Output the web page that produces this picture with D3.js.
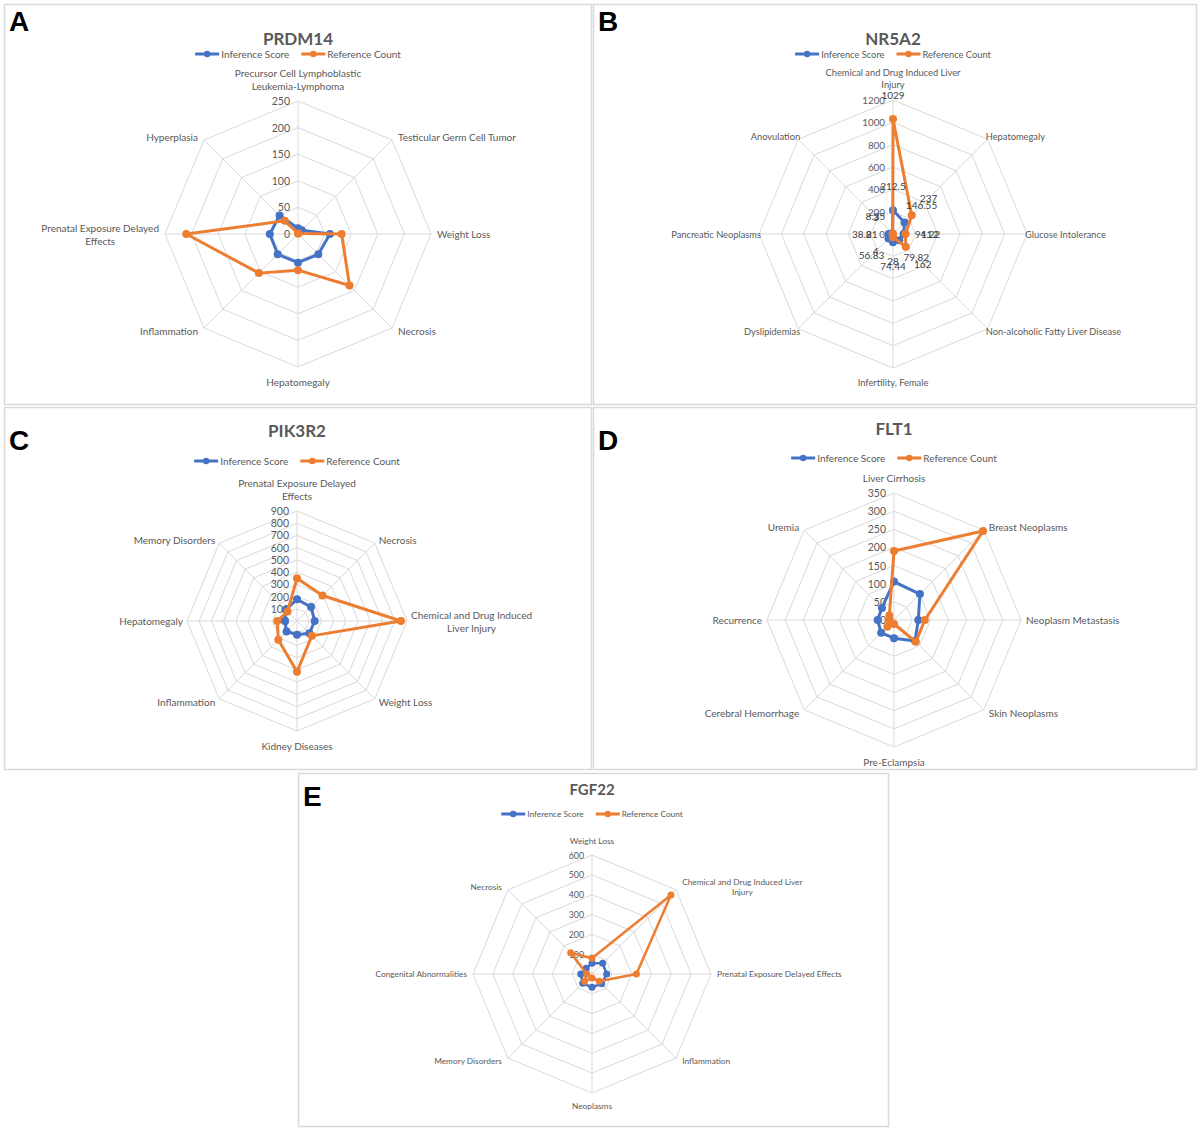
<!DOCTYPE html>
<html>
<head>
<meta charset="utf-8">
<script src="https://cdn.jsdelivr.net/npm/d3@7/dist/d3.min.js"></script>
<style>
  body { margin: 0; background: #fff; }
  text { font-family: Lato, "Open Sans", sans-serif; fill: #595959; }
</style>
</head>
<body>
<svg id="fig" width="1200" height="1130"></svg>
<script>
// series shared by every panel
var seriesNames = ["Inference Score", "Reference Count"];
var seriesColors = ["#4472C4", "#ED7D31"];

// A - PRDM14
var prdm14Diseases = ["Precursor Cell Lymphoblastic Leukemia-Lymphoma", "Testicular Germ Cell Tumor", "Weight Loss", "Necrosis", "Hepatomegaly", "Inflammation", "Prenatal Exposure Delayed Effects", "Hyperplasia"];
var prdm14Inference = [11, 10, 60, 54, 54, 54, 53, 49];
var prdm14Reference = [1, 1, 82, 137, 68, 104, 210, 35];
var prdm14Ticks = [0, 50, 100, 150, 200, 250];

// B - NR5A2
var nr5a2Diseases = ["Chemical and Drug Induced Liver Injury", "Hepatomegaly", "Glucose Intolerance", "Non-alcoholic Fatty Liver Disease", "Infertility, Female", "Dyslipidemias", "Pancreatic Neoplasms", "Anovulation"];
var nr5a2Inference = [212.5, 146.55, 94.22, 79.82, 74.44, 56.83, 38.81, 8.35];
var nr5a2Reference = [1029, 237, 112, 162, 28, 4, 2, 3];
var nr5a2Ticks = [0, 200, 400, 600, 800, 1000, 1200];

// C - PIK3R2
var pik3r2Diseases = ["Prenatal Exposure Delayed Effects", "Necrosis", "Chemical and Drug Induced Liver Injury", "Weight Loss", "Kidney Diseases", "Inflammation", "Hepatomegaly", "Memory Disorders"];
var pik3r2Inference = [177, 162, 145, 143, 112, 121, 100, 130];
var pik3r2Reference = [349, 295, 851, 172, 415, 216, 161, 110];
var pik3r2Ticks = [0, 100, 200, 300, 400, 500, 600, 700, 800, 900];

// D - FLT1
var flt1Diseases = ["Liver Cirrhosis", "Breast Neoplasms", "Neoplasm Metastasis", "Skin Neoplasms", "Pre-Eclampsia", "Cerebral Hemorrhage", "Recurrence", "Uremia"];
var flt1Inference = [106, 101, 67, 82, 50, 50, 45, 47];
var flt1Reference = [190, 347, 85, 85, 11, 26, 12, 18];
var flt1Ticks = [0, 50, 100, 150, 200, 250, 300, 350];

// E - FGF22
var fgf22Diseases = ["Weight Loss", "Chemical and Drug Induced Liver Injury", "Prenatal Exposure Delayed Effects", "Inflammation", "Neoplasms", "Memory Disorders", "Congenital Abnormalities", "Necrosis"];
var fgf22Inference = [54, 76, 74, 69, 67, 66, 57, 41];
var fgf22Reference = [79, 563, 224, 52, 20, 53, 27, 152];
var fgf22Ticks = [0, 100, 200, 300, 400, 500, 600];

var panels = [
  {letter: "A", gene: "PRDM14", diseases: prdm14Diseases, values: [prdm14Inference, prdm14Reference], ticks: prdm14Ticks,
   box: [4, 4, 587, 400], cx: 298, cy: 234, r: 133, titleY: 38, legendY: 54, fs: 10, titleFs: 17, wrap: 128, letterY: 31, gap: 6},
  {letter: "B", gene: "NR5A2", diseases: nr5a2Diseases, values: [nr5a2Inference, nr5a2Reference], ticks: nr5a2Ticks,
   box: [593, 4, 603, 400], cx: 893, cy: 234, r: 134, titleY: 38, legendY: 54, fs: 9.3, titleFs: 17, wrap: 140, letterY: 31, gap: -2, dataLabels: true},
  {letter: "C", gene: "PIK3R2", diseases: pik3r2Diseases, values: [pik3r2Inference, pik3r2Reference], ticks: pik3r2Ticks,
   box: [4, 407, 587, 362], cx: 297, cy: 621, r: 110, titleY: 430, legendY: 461, fs: 10, titleFs: 17, wrap: 128, letterY: 450, gap: 4},
  {letter: "D", gene: "FLT1", diseases: flt1Diseases, values: [flt1Inference, flt1Reference], ticks: flt1Ticks,
   box: [593, 407, 603, 362], cx: 894, cy: 620, r: 127, titleY: 428, legendY: 458, fs: 10, titleFs: 17, wrap: 140, letterY: 450, gap: 5},
  {letter: "E", gene: "FGF22", diseases: fgf22Diseases, values: [fgf22Inference, fgf22Reference], ticks: fgf22Ticks,
   box: [298, 773, 590, 353], cx: 592, cy: 974, r: 119, titleY: 789, legendY: 814, fs: 8.3, titleFs: 15, wrap: 136, letterY: 806, gap: 6}
];

var svg = d3.select("#fig");

// split a label into lines no wider than maxW
function wrapLines(label, fs, maxW) {
  var probe = svg.append("text").style("font-size", fs + "px");
  var words = label.split(" ");
  var lines = [];
  var line = words[0];
  for (var i = 1; i < words.length; i++) {
    probe.text(line + " " + words[i]);
    if (probe.node().getComputedTextLength() > maxW) {
      lines.push(line);
      line = words[i];
    } else {
      line = line + " " + words[i];
    }
  }
  lines.push(line);
  var widths = lines.map(function(l) { probe.text(l); return probe.node().getComputedTextLength(); });
  probe.remove();
  return {lines: lines, width: d3.max(widths)};
}

function drawPanel(p) {
  var g = svg.append("g");
  var n = p.diseases.length;
  var maxV = d3.max(p.ticks);
  var rScale = d3.scaleLinear().domain([0, maxV]).range([0, p.r]);
  var angle = d3.scaleLinear().domain([0, n]).range([0, 2 * Math.PI]);

  // panel frame
  g.append("rect")
    .attr("x", p.box[0] + 0.5).attr("y", p.box[1] + 0.5)
    .attr("width", p.box[2]).attr("height", p.box[3])
    .attr("fill", "none").attr("stroke", "#d9d9d9").attr("stroke-width", 1.5);

  g.append("text")
    .attr("x", p.box[0] + 5).attr("y", p.letterY)
    .style("font-family", "'Liberation Sans', Arial, sans-serif")
    .style("font-weight", "bold").style("font-size", "28px").style("fill", "#000")
    .text(p.letter);

  g.append("text")
    .attr("x", p.cx).attr("y", p.titleY)
    .attr("text-anchor", "middle").attr("dominant-baseline", "central")
    .style("font-weight", "bold").style("font-size", p.titleFs + "px")
    .text(p.gene);

  // legend, centred on the chart
  var leg = g.append("g");
  var lx = 0;
  seriesNames.forEach(function(name, i) {
    leg.append("line").attr("x1", lx).attr("x2", lx + 24).attr("y1", 0).attr("y2", 0)
      .attr("stroke", seriesColors[i]).attr("stroke-width", 3);
    leg.append("circle").attr("cx", lx + 12).attr("cy", 0).attr("r", 3.2).attr("fill", seriesColors[i]);
    var t = leg.append("text").attr("x", lx + 26).attr("y", 0)
      .attr("dominant-baseline", "central").style("font-size", p.fs + "px").text(name);
    lx += 26 + t.node().getComputedTextLength() + 12;
  });
  leg.attr("transform", "translate(" + (p.cx - (lx - 12) / 2) + "," + p.legendY + ")");

  var chart = g.append("g").attr("transform", "translate(" + p.cx + "," + p.cy + ")");

  // octagon grid
  var ring = d3.lineRadial().angle(function(d, i) { return angle(i); }).curve(d3.curveLinearClosed);
  chart.selectAll(".ring")
    .data(p.ticks.filter(function(t) { return t > 0; }))
    .enter().append("path")
    .attr("d", function(t) { return ring.radius(rScale(t))(d3.range(n)); })
    .attr("fill", "none").attr("stroke", "#d9d9d9").attr("stroke-width", 1);

  chart.selectAll(".spoke")
    .data(d3.range(n))
    .enter().append("line")
    .attr("x2", function(i) { return rScale(maxV) * Math.sin(angle(i)); })
    .attr("y2", function(i) { return -rScale(maxV) * Math.cos(angle(i)); })
    .attr("stroke", "#d9d9d9").attr("stroke-width", 1);

  // tick labels on the first axis
  chart.selectAll(".tick")
    .data(p.ticks)
    .enter().append("text")
    .attr("x", -8).attr("y", function(t) { return -rScale(t); })
    .attr("text-anchor", "end").attr("dominant-baseline", "central")
    .style("font-size", (p.fs + 0.5) + "px")
    .text(function(t) { return t; });

  // category labels round the octagon
  p.diseases.forEach(function(label, i) {
    var a = angle(i);
    var sx = Math.sin(a), sy = -Math.cos(a);
    var vx = rScale(maxV) * sx, vy = rScale(maxV) * sy;
    var w = wrapLines(label, p.fs, p.wrap);
    var lh = p.fs * 1.3;
    var bx, by;
    if (Math.abs(sx) < 0.1) {
      bx = vx;
      by = sy < 0 ? vy - 9 - (w.lines.length - 0.5) * lh : vy + 8 + lh / 2;
    } else {
      bx = sx > 0 ? vx + p.gap + w.width / 2 : vx - p.gap - w.width / 2;
      by = vy + sy * 4 - (w.lines.length - 1) * lh / 2;
    }
    w.lines.forEach(function(l, k) {
      chart.append("text")
        .attr("x", bx).attr("y", by + k * lh)
        .attr("text-anchor", "middle").attr("dominant-baseline", "central")
        .style("font-size", p.fs + "px")
        .text(l);
    });
  });

  // the two series
  var line = d3.lineRadial()
    .angle(function(d, i) { return angle(i); })
    .radius(function(d) { return rScale(d); })
    .curve(d3.curveLinearClosed);

  p.values.forEach(function(vals, s) {
    chart.append("path")
      .attr("d", line(vals))
      .attr("fill", "none").attr("stroke", seriesColors[s])
      .attr("stroke-width", p.fs < 9 ? 2.5 : 3).attr("stroke-linejoin", "round");
    chart.selectAll(".pt" + s)
      .data(vals)
      .enter().append("circle")
      .attr("cx", function(d, i) { return rScale(d) * Math.sin(angle(i)); })
      .attr("cy", function(d, i) { return -rScale(d) * Math.cos(angle(i)); })
      .attr("r", p.fs < 9 ? 3.5 : 4)
      .attr("fill", seriesColors[s]);
  });

  // value labels (NR5A2 only), placed just outside each point
  if (p.dataLabels) {
    p.values.forEach(function(vals) {
      chart.selectAll(null)
        .data(vals)
        .enter().append("text")
        .attr("x", function(d, i) { return (rScale(d) + 24) * Math.sin(angle(i)); })
        .attr("y", function(d, i) { return -(rScale(d) + 24) * Math.cos(angle(i)); })
        .attr("text-anchor", "middle").attr("dominant-baseline", "central")
        .style("font-size", "10px").style("fill", "#404040")
        .text(function(d) { return d; });
    });
  }
}

panels.forEach(drawPanel);
</script>
</body>
</html>
